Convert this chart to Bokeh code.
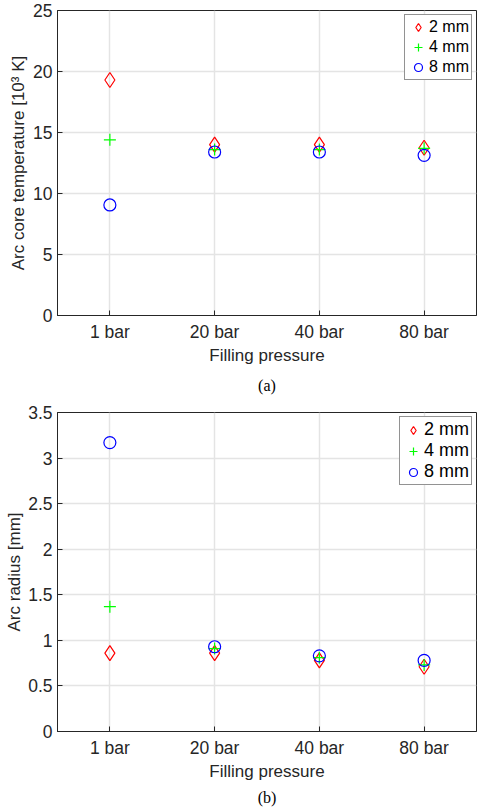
from bokeh.plotting import figure
from bokeh.layouts import column
from bokeh.models import FactorRange, Range1d, FixedTicker, NumeralTickFormatter, Title, Legend, LegendItem
from bokeh.embed import file_html
from bokeh.resources import INLINE

pressures = ["1 bar", "20 bar", "40 bar", "80 bar"]
series_names = ["2 mm", "4 mm", "8 mm"]

temp_2mm = [19.3, 14.0, 14.0, 13.75]
temp_4mm = [14.4, 13.6, 13.6, 13.7]
temp_8mm = [9.06, 13.4, 13.4, 13.13]

radius_2mm = [0.86, 0.86, 0.78, 0.71]
radius_4mm = [1.37, 0.91, 0.81, 0.73]
radius_8mm = [3.17, 0.93, 0.83, 0.78]

temp_ticks = [0, 5, 10, 15, 20, 25]
radius_ticks = [0, 0.5, 1, 1.5, 2, 2.5, 3, 3.5]

FONT = "Liberation Sans"
TXT = "#262626"


def make(values, ylabel, ymax, ticks, caption, height, top, bottom, right, legend_fs, cap_standoff, ylab_standoff):
    p = figure(x_range=FactorRange(factors=pressures, range_padding=0),
               y_range=Range1d(0, ymax), width=479, height=height,
               output_backend="svg", toolbar_location=None,
               min_border_left=57, min_border_right=right,
               min_border_top=top, min_border_bottom=bottom)
    p.outline_line_color = TXT
    p.outline_line_width = 1
    p.background_fill_color = "white"
    p.border_fill_color = "white"

    for ax in (p.xaxis[0], p.yaxis[0]):
        ax.axis_line_color = TXT
        ax.major_tick_line_color = TXT
        ax.major_tick_in = 5
        ax.major_tick_out = 0
        ax.minor_tick_in = 0
        ax.minor_tick_out = 0
        ax.major_label_text_font = FONT
        ax.major_label_text_font_size = "17.5px"
        ax.major_label_text_color = TXT
        ax.axis_label_text_font = FONT
        ax.axis_label_text_font_size = "17px"
        ax.axis_label_text_font_style = "normal"
        ax.axis_label_text_color = TXT
    p.xaxis.axis_label = "Filling pressure"
    p.xaxis.major_label_standoff = 6
    p.xaxis.axis_label_standoff = 1
    p.yaxis.axis_label = ylabel
    p.yaxis.major_label_standoff = 5
    p.yaxis.axis_label_standoff = ylab_standoff
    p.yaxis.ticker = FixedTicker(ticks=ticks)
    p.yaxis.formatter = NumeralTickFormatter(format="0.[0]")

    p.xgrid.grid_line_color = "#e4e4e4"
    p.ygrid.grid_line_color = "#e4e4e4"
    p.xgrid.grid_line_width = 1.5
    p.ygrid.grid_line_width = 1.5

    r1 = p.scatter(x=pressures, y=values[0], marker="diamond", size=15,
                   fill_color=None, line_color="#ff0000", line_width=1.2)
    r2 = p.scatter(x=pressures, y=values[1], marker="cross", size=12,
                   fill_color=None, line_color="#00ff00", line_width=1.2)
    r3 = p.scatter(x=pressures, y=values[2], marker="circle", size=12,
                   fill_color=None, line_color="#0000ff", line_width=1.2)

    legend = Legend(items=[LegendItem(label=series_names[0], renderers=[r1]),
                           LegendItem(label=series_names[1], renderers=[r2]),
                           LegendItem(label=series_names[2], renderers=[r3])],
                    location="top_right")
    legend.label_text_font = FONT
    legend.label_text_font_size = legend_fs
    legend.label_text_color = "black"
    legend.border_line_color = TXT
    legend.border_line_width = 1.5
    legend.background_fill_alpha = 1
    legend.spacing = 0
    legend.padding = 2
    legend.margin = 4
    legend.glyph_width = 22
    legend.glyph_height = 20
    legend.label_height = 20
    legend.label_standoff = 0
    p.add_layout(legend)

    cap = Title(text=caption, align="center", text_font="Liberation Serif",
                text_font_size="16px", text_font_style="normal",
                text_color="black", standoff=cap_standoff, offset=-12)
    p.add_layout(cap, "below")
    return p


p1 = make([temp_2mm, temp_4mm, temp_8mm], "Arc core temperature [10³ K]", 25,
          temp_ticks, "(a)", 400, 10, 84, 0, "16px", 14, 2)
p2 = make([radius_2mm, radius_4mm, radius_8mm], "Arc radius [mm]", 3.5,
          radius_ticks, "(b)", 411, 12, 80, 3, "18px", 7, 1)

layout = column(p1, p2, spacing=0)
open("out.html", "w").write(file_html(layout, INLINE))
